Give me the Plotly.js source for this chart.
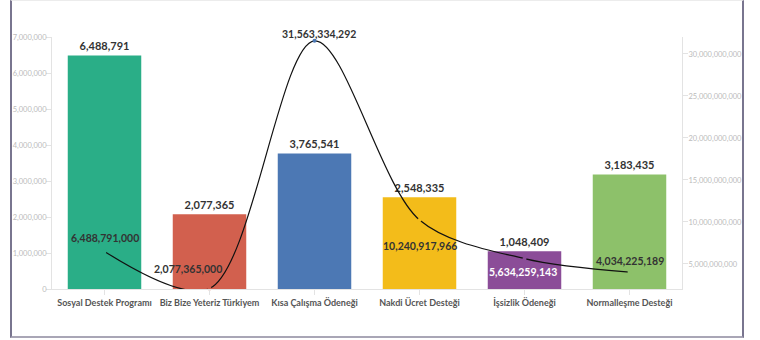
<!DOCTYPE html>
<html>
<head>
<meta charset="utf-8">
<script src="https://cdn.plot.ly/plotly-3.0.1.min.js"></script>
<style>
  html, body { margin: 0; padding: 0; background: #fff; }
  body { width: 760px; height: 340px; overflow: hidden; position: relative; }
  #frame { position: absolute; left: 10px; top: 0px; width: 730px; height: 335px;
           border-left: 2px solid #79758f; border-right: 2px solid #79758f;
           border-bottom: 2px solid #a9a6b6; border-top: 1px solid #ececec; }
  #chart { position: absolute; left: 0; top: 0; width: 760px; height: 340px; }
</style>
</head>
<body>
<div id="frame"></div>
<div id="chart"></div>
<script>
const categories = ["Sosyal Destek Programı", "Biz Bize Yeteriz Türkiyem", "Kısa Çalışma Ödeneği", "Nakdi Ücret Desteği", "İşsizlik Ödeneği", "Normalleşme Desteği"];
const beneficiaries = [6488791, 2077365, 3765541, 2548335, 1048409, 3183435];
const amounts = [6488791000, 2077365000, 31563334292, 10240917966, 5634259143, 4034225189];
const barColors = ["#2aae87", "#d2604e", "#4c78b4", "#f3bc1a", "#8b4d98", "#8dc16a"];

// label placement for the line's value labels (pixel offsets from each point)
const labelDx = [0, -22, 4, 0, -2, 0];
const labelDy = [13, 20, 7, -26, -13, 11];
const labelColors = ["#333333", "#333333", "#333333", "#333333", "#ffffff", "#333333"];

const fmt = v => v.toLocaleString("en-US");
const font = "Lato, 'Open Sans', sans-serif";

const bars = {
  type: "bar", x: categories, y: beneficiaries,
  marker: { color: barColors },
  text: beneficiaries.map(fmt), textposition: "outside", cliponaxis: false,
  textfont: { family: font, size: 11, color: "#333333", weight: 700 },
  hoverinfo: "x+y", width: 0.7
};
const line = {
  type: "scatter", mode: "lines+markers", x: categories, y: amounts, yaxis: "y2",
  line: { color: "#111111", width: 1.2, shape: "spline", smoothing: 0.9 },
  marker: { color: barColors, size: 4 },
  cliponaxis: false
};

const annotations = categories.map((c, i) => ({
  x: c, y: amounts[i], xref: "x", yref: "y2",
  text: fmt(amounts[i]), showarrow: false,
  xanchor: "center", yanchor: "middle",
  xshift: labelDx[i], yshift: labelDy[i],
  font: { family: font, size: 10.5, color: labelColors[i], weight: 700 }
}));

const layout = {
  width: 760, height: 340,
  margin: { l: 52, r: 78, t: 37, b: 51 },
  paper_bgcolor: "rgba(0,0,0,0)", plot_bgcolor: "rgba(0,0,0,0)",
  showlegend: false,
  font: { family: font },
  annotations: annotations,
  xaxis: {
    showline: true, linecolor: "#e3e3e3", linewidth: 1,
    ticks: "outside", ticklen: 5, tickcolor: "#e3e3e3",
    tickfont: { family: font, size: 9, color: "#555555", weight: 700 },
    showgrid: false, zeroline: false
  },
  yaxis: {
    range: [0, 7000000], dtick: 1000000, tickformat: ",d",
    showline: true, linecolor: "#e3e3e3", ticks: "outside", ticklen: 5, tickcolor: "#e3e3e3",
    ticklabelstandoff: -2,
    tickfont: { family: font, size: 7.5, color: "#bbbbbb" },
    showgrid: false, zeroline: false
  },
  yaxis2: {
    overlaying: "y", side: "right", range: [2020000000, 32020000000], dtick: 5000000000,
    tick0: 0, tickformat: ",d",
    showline: true, linecolor: "#e3e3e3", ticks: "outside", ticklen: 5, tickcolor: "#e3e3e3",
    ticklabelstandoff: -1,
    tickfont: { family: font, size: 7.5, color: "#bbbbbb" },
    showgrid: false, zeroline: false
  }
};

Plotly.newPlot("chart", [bars, line], layout, { displayModeBar: false, staticPlot: true });
</script>
</body>
</html>
